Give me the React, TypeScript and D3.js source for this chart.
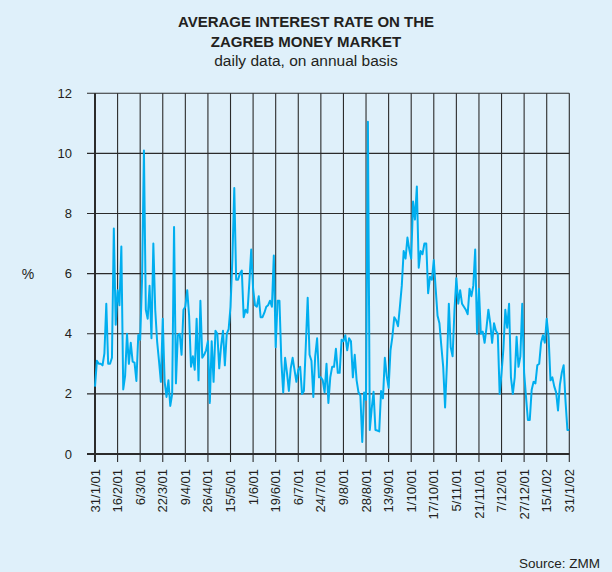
import React from "react";
import * as d3 from "d3";

const tickLabels = [
  "31/1/01", "16/2/01", "6/3/01", "22/3/01", "9/4/01", "26/4/01", "15/5/01", "1/6/01",
  "19/6/01", "6/7/01", "24/7/01", "9/8/01", "28/8/01", "13/9/01", "1/10/01", "17/10/01",
  "5/11/01", "21/11/01", "7/12/01", "27/12/01", "15/1/02", "31/1/02",
];
const daysPerTick = 12;
const yTicks = [0, 2, 4, 6, 8, 10, 12];

// daily average interest rate, % (one value per trading day)
const rates = [
  2.24, 3.1, 3.0, 3.0, 2.95, 3.35, 5.0, 3.0, 3.0, 3.2, 7.5, 4.3, 5.45, 4.95, 6.9, 2.15,
  2.6, 4.0, 3.0, 3.7, 3.07, 3.04, 2.43, 3.96, 3.8, 5.8, 10.1, 4.8, 4.5, 5.6, 3.85, 7.0,
  4.8, 3.75, 3.1, 2.4, 4.5, 2.4, 1.9, 2.45, 1.6, 2.0, 7.55, 2.35, 3.95, 4.0, 3.3, 4.8,
  4.9, 5.45, 4.6, 2.9, 3.25, 2.8, 4.5, 2.45, 5.1, 3.2, 3.3, 3.45, 3.75, 1.7, 3.75, 2.4,
  4.1, 4.0, 2.85, 3.6, 4.1, 2.95, 4.0, 4.15, 4.9, 6.5, 8.85, 5.8, 5.8, 6.0, 6.1, 4.55,
  4.8, 4.7, 5.7, 6.8, 5.5, 4.95, 4.9, 5.25, 4.55, 4.55, 4.7, 4.9, 4.95, 5.1, 4.9, 6.6,
  3.55, 5.1, 5.1, 3.1, 2.05, 3.2, 2.7, 2.1, 2.85, 3.2, 2.8, 2.4, 2.8, 2.9, 2.0, 2.1,
  3.6, 5.2, 3.3, 3.1, 1.9, 3.25, 3.85, 2.55, 2.55, 2.45, 2.05, 3.0, 1.7, 2.55, 2.9, 2.9,
  3.5, 2.7, 2.7, 3.8, 3.75, 3.95, 3.45, 3.85, 3.75, 2.55, 3.3, 2.45, 2.05, 1.95, 0.4, 2.05,
  1.8, 11.05, 0.8, 1.5, 2.07, 0.8, 0.78, 0.75, 2.1, 1.85, 3.2, 2.6, 2.2, 3.45, 3.9, 4.55,
  4.45, 4.25, 4.9, 5.6, 6.75, 6.5, 7.2, 6.8, 6.5, 8.4, 7.8, 8.9, 6.2, 6.75, 6.65, 7.0,
  7.0, 5.35, 5.9, 5.8, 6.45, 5.5, 4.6, 4.35, 3.6, 2.9, 1.55, 3.0, 5.0, 3.55, 3.25, 4.8,
  5.85, 5.0, 5.45, 5.0, 4.9, 4.8, 4.65, 5.5, 5.25, 5.6, 6.8, 4.0, 5.5, 4.0, 4.07, 3.7,
  4.2, 4.8, 4.35, 3.7, 4.35, 4.1, 4.0, 2.0, 2.7, 3.5, 4.8, 4.2, 5.0, 2.55, 2.0, 2.55,
  3.9, 2.9, 3.25, 5.0, 2.7, 1.9, 1.13, 1.13, 2.13, 2.4, 2.35, 2.95, 3.0, 3.7, 3.95, 3.7,
  4.5, 3.9, 2.45, 2.55, 2.25, 2.05, 1.45, 2.3, 2.7, 2.95, 1.75, 0.8, 0.8,
];

const W = 612;
const H = 572;
const left = 95;
const right = 569.3;
const top = 93.3;
const bottom = 454;
const FONT = "'Liberation Sans', Arial, Helvetica, sans-serif";
const TXT = "#231f20";

export default function App() {
  const nTicks = tickLabels.length;
  const x = d3.scaleLinear().domain([0, (nTicks - 1) * daysPerTick]).range([left, right]);
  const y = d3.scaleLinear().domain([0, 12]).range([bottom, top]);
  const line = d3
    .line<number>()
    .x((_, i) => x(i))
    .y((d) => y(d))
    .curve(d3.curveLinear);

  const tickIdx = tickLabels.map((_, k) => k * daysPerTick);

  return (
    <svg
      width={W}
      height={H}
      style={{ position: "absolute", left: 0, top: 0, display: "block" }}
      fontFamily={FONT}
    >
      <rect x={0} y={0} width={W} height={H} fill="#dff0fa" />

      {/* title */}
      <text x={306} y={27} textAnchor="middle" fontSize={15} fontWeight="bold" fill={TXT}>
        AVERAGE INTEREST RATE ON THE
      </text>
      <text x={306} y={46.5} textAnchor="middle" fontSize={15} fontWeight="bold" fill={TXT}>
        ZAGREB MONEY MARKET
      </text>
      <text x={306} y={66} textAnchor="middle" fontSize={15.5} fill={TXT}>
        daily data, on annual basis
      </text>

      {/* horizontal grid */}
      {yTicks.map((t) => (
        <line key={"h" + t} x1={87} x2={right} y1={y(t)} y2={y(t)} stroke="#2b2b2b" strokeWidth={1.1} />
      ))}
      {/* vertical grid */}
      {tickIdx.map((t) => (
        <line key={"v" + t} x1={x(t)} x2={x(t)} y1={top} y2={bottom + 8} stroke="#2b2b2b" strokeWidth={1.1} />
      ))}

      {/* axes */}
      <line x1={left} x2={left} y1={top} y2={bottom + 8} stroke="#2b2b2b" strokeWidth={2} />
      <line x1={87} x2={right} y1={bottom} y2={bottom} stroke="#2b2b2b" strokeWidth={2} />

      {/* data line */}
      <path d={line(rates) ?? ""} fill="none" stroke="#00aeef" strokeWidth={2} strokeLinejoin="round" />

      {/* y labels */}
      {yTicks.map((t) => (
        <text key={"yl" + t} x={72} y={y(t)} dy="0.35em" textAnchor="end" fontSize={13} fill={TXT}>
          {t}
        </text>
      ))}
      <text x={28} y={274} dy="0.35em" textAnchor="middle" fontSize={14} fill={TXT}>
        %
      </text>

      {/* x labels */}
      {tickLabels.map((lab, k) => (
        <text
          key={"xl" + k}
          transform={`translate(${x(tickIdx[k])},469) rotate(-90)`}
          dy="0.35em"
          textAnchor="end"
          fontSize={13}
          fill={TXT}
        >
          {lab}
        </text>
      ))}

      <text x={600} y={568} textAnchor="end" fontSize={13.5} fill={TXT}>
        Source: ZMM
      </text>
    </svg>
  );
}
